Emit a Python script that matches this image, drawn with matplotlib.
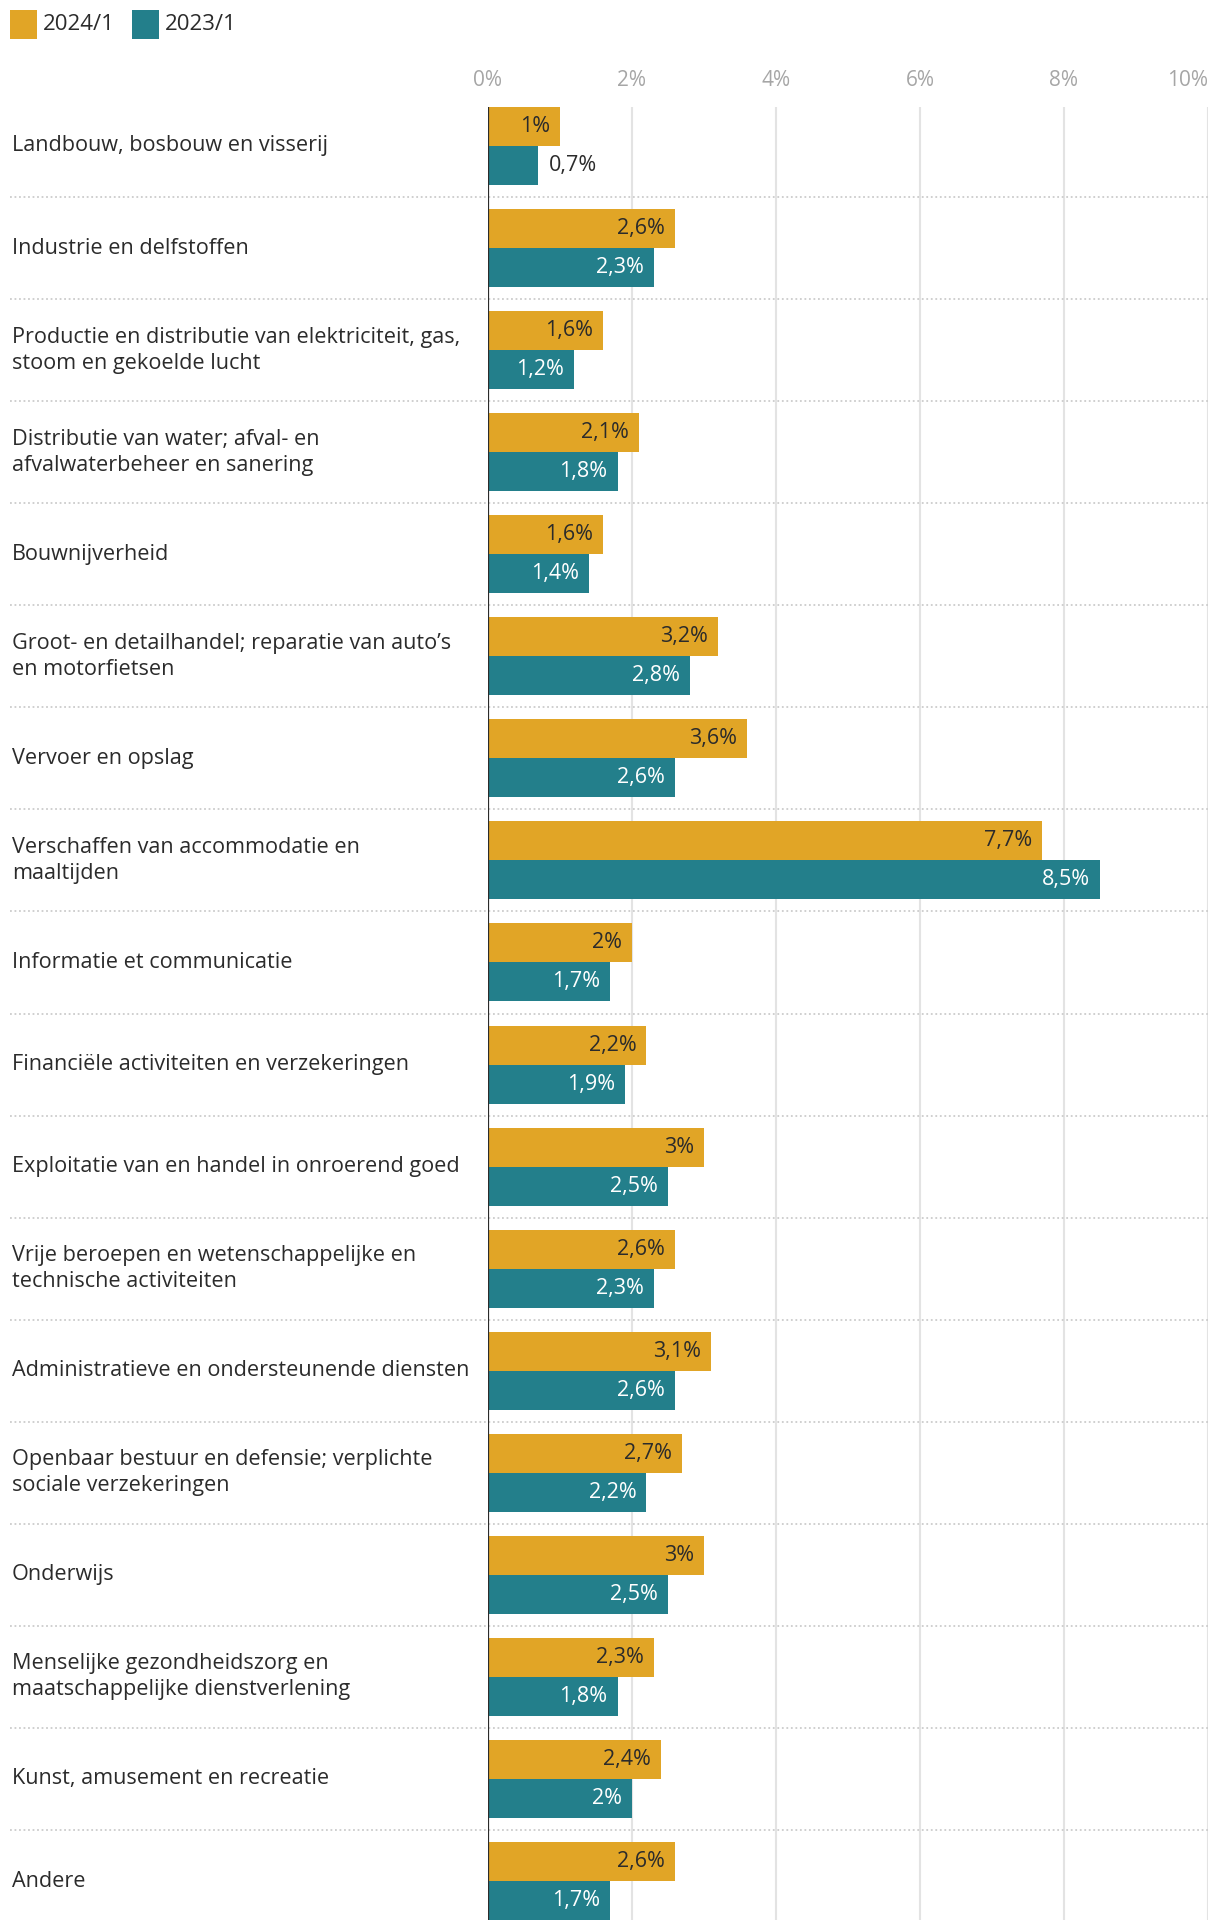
import matplotlib
matplotlib.use("Agg")
import matplotlib.pyplot as plt
from matplotlib.patches import Rectangle

# Data
categories = [
    "Landbouw, bosbouw en visserij",
    "Industrie en delfstoffen",
    "Productie en distributie van elektriciteit, gas,\nstoom en gekoelde lucht",
    "Distributie van water; afval- en\nafvalwaterbeheer en sanering",
    "Bouwnijverheid",
    "Groot- en detailhandel; reparatie van auto’s\nen motorfietsen",
    "Vervoer en opslag",
    "Verschaffen van accommodatie en\nmaaltijden",
    "Informatie et communicatie",
    "Financiële activiteiten en verzekeringen",
    "Exploitatie van en handel in onroerend goed",
    "Vrije beroepen en wetenschappelijke en\ntechnische activiteiten",
    "Administratieve en ondersteunende diensten",
    "Openbaar bestuur en defensie; verplichte\nsociale verzekeringen",
    "Onderwijs",
    "Menselijke gezondheidszorg en\nmaatschappelijke dienstverlening",
    "Kunst, amusement en recreatie",
    "Andere",
]
values_2024 = [1, 2.6, 1.6, 2.1, 1.6, 3.2, 3.6, 7.7, 2, 2.2, 3, 2.6, 3.1, 2.7, 3, 2.3, 2.4, 2.6]
values_2023 = [0.7, 2.3, 1.2, 1.8, 1.4, 2.8, 2.6, 8.5, 1.7, 1.9, 2.5, 2.3, 2.6, 2.2, 2.5, 1.8, 2, 1.7]
series_names = ["2024/1", "2023/1"]
x_ticks = [0, 2, 4, 6, 8, 10]

YELLOW = "#E1A526"
TEAL = "#237F8B"
DARK = "#2b2b2b"

plt.rcParams["font.family"] = ["Open Sans", "DejaVu Sans"]


def fmt(v):
    s = f"{v:.1f}".rstrip("0").rstrip(".")
    return s.replace(".", ",") + "%"


W, H, DPI = 1220, 1932, 100
fig = plt.figure(figsize=(W / DPI, H / DPI), dpi=DPI)

bar_h = 0.382
n = len(categories)
ax_left = 488 / W
ax_w = 720 / W
ax_bottom = 1 - 1920 / H
ax_top = 1 - 107 / H
ax = fig.add_axes([ax_left, ax_bottom, ax_w, ax_top - ax_bottom])

ys = list(range(n))
ax.barh([y - bar_h / 2 for y in ys], values_2024, height=bar_h, color=YELLOW, zorder=3)
ax.barh([y + bar_h / 2 for y in ys], values_2023, height=bar_h, color=TEAL, zorder=3)

ax.set_xlim(0, 10)
ax.set_ylim(n - 1 + bar_h, -bar_h)

# grid
for t in x_ticks[1:]:
    ax.axvline(t, color="#e3e3e3", lw=1.5, zorder=1)
ax.axvline(0, color=DARK, lw=1.6, zorder=4)

# dotted separators across full width
for i in range(n - 1):
    ax.plot([(10 - 488) / 720, 1.0], [i + 0.5, i + 0.5], transform=ax.get_yaxis_transform(),
            color="#cccccc", lw=1.3, ls=(0, (1, 1.5)), clip_on=False, zorder=2)

# value labels
pad = 10 / 72  # ~10 px in data units
vfs = 15.5
for i in range(n):
    v = values_2024[i]
    ax.text(v - pad, i - bar_h / 2, fmt(v), ha="right", va="center", fontsize=vfs,
            color=DARK, zorder=5)
    v = values_2023[i]
    if v < 0.9:
        ax.text(v + pad, i + bar_h / 2, fmt(v), ha="left", va="center", fontsize=vfs,
                color=DARK, zorder=5)
    else:
        ax.text(v - pad, i + bar_h / 2, fmt(v), ha="right", va="center", fontsize=vfs,
                color="white", zorder=5)

# category labels
for i, c in enumerate(categories):
    ax.text((12 - 488) / 720, i, c, transform=ax.get_yaxis_transform(), fontsize=15.6,
            color=DARK, ha="left", va="center", linespacing=1.3, clip_on=False)

# top tick labels
ax.set_xticks([])
ax.set_yticks([])
for s in ax.spines.values():
    s.set_visible(False)
for t in x_ticks:
    ha = "right" if t == x_ticks[-1] else "center"
    ax.text(t, -bar_h - 26 / 102, f"{t}%", ha=ha, va="center", fontsize=15,
            color="#a6a6a6", clip_on=False)

# legend
for k, (name, col) in enumerate(zip(series_names, [YELLOW, TEAL])):
    x0 = (10 + k * 122) / W
    fig.add_artist(Rectangle((x0, 1 - 39 / H), 27 / W, 29 / H, transform=fig.transFigure,
                             color=col, lw=0))
    fig.text(x0 + 33 / W, 1 - 24 / H, name, fontsize=16, color=DARK, ha="left", va="center")

fig.savefig("out.png", dpi=DPI, facecolor="white")
